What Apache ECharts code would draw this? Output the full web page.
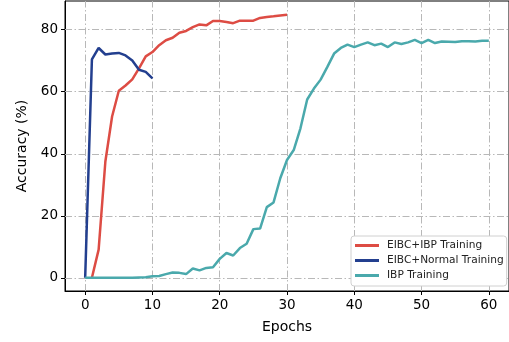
<!DOCTYPE html>
<html>
<head>
<meta charset="utf-8">
<script src="https://cdn.jsdelivr.net/npm/echarts@6/dist/echarts.min.js"></script>
<style>
  html, body { margin: 0; padding: 0; background: #fff; }
  #chart { width: 509px; height: 342px; }
</style>
</head>
<body>
<div id="chart"></div>
<script>
// accuracy per epoch
const eibcIbpEpochs = [1, 2, 3, 4, 5, 6, 7, 8, 9, 10, 11, 12, 13, 14, 15, 16, 17, 18, 19, 20,
  21, 22, 23, 24, 25, 26, 27, 28, 29, 30]
const eibcIbpAcc = [0, 9.1, 37.5, 52, 60.3, 62, 64, 67.5, 71.4, 72.8, 75, 76.6, 77.4, 79, 79.6,
  80.8, 81.7, 81.4, 82.8, 82.8, 82.5, 82.1, 82.9, 82.9, 82.9, 83.8, 84.1, 84.3, 84.6, 84.8]

const eibcNormalEpochs = [0, 1, 2, 3, 4, 5, 6, 7, 8, 9, 10]
const eibcNormalAcc = [0, 70.4, 74.1, 72, 72.3, 72.5, 71.7, 70.1, 67.1, 66.4, 64.3]

const ibpEpochs = [0, 1, 2, 3, 4, 5, 6, 7, 8, 9, 10, 11, 12, 13, 14, 15, 16, 17, 18, 19, 20,
  21, 22, 23, 24, 25, 26, 27, 28, 29, 30, 31, 32, 33, 34, 35, 36, 37, 38, 39, 40,
  41, 42, 43, 44, 45, 46, 47, 48, 49, 50, 51, 52, 53, 54, 55, 56, 57, 58, 59, 60]
const ibpAcc = [0, 0, 0, 0, 0, 0, 0, 0.05, 0.1, 0.15, 0.5, 0.6, 1.2, 1.7, 1.6, 1.2, 3.0, 2.4, 3.2, 3.4,
  6.1, 8.0, 7.2, 9.6, 11.0, 15.7, 15.9, 22.8, 24.3, 32.1, 38.0, 41.2, 48.2, 57.5, 61, 63.9, 68,
  72.3, 74.1, 75.2, 74.4, 75.2, 75.9, 75, 75.5, 74.4, 75.9, 75.4, 75.9, 76.7, 75.7, 76.7, 75.7,
  76.2, 76.1, 76.0, 76.3, 76.3, 76.2, 76.4, 76.4]

const xTicks = [0, 10, 20, 30, 40, 50, 60]
const yTicks = [0, 20, 40, 60, 80]

const seriesNames = ['EIBC+IBP Training', 'EIBC+Normal Training', 'IBP Training']
const colors = ['#dd4c44', '#233f8f', '#4aa9ac']

function pairs(xs, ys) {
  return xs.map((x, i) => [x, ys[i]])
}

const font = 'DejaVu Sans'
// dash-dot grid, like matplotlib's '-.'
const gridLineStyle = { color: '#b8b8b8', width: 1, type: [7, 2.5, 1.5, 2.5] }

const myChart = echarts.init(document.getElementById('chart'), null, { renderer: 'canvas' })

const option = {
  animation: false,
  textStyle: { fontFamily: font },
  grid: {
    left: 65,
    top: 1,
    width: 447,
    height: 290,
    show: true,
    borderColor: '#000',
    borderWidth: 1,
    backgroundColor: 'transparent',
  },
  legend: {
    orient: 'vertical',
    left: 351,
    top: 236,
    padding: [4, 3, 5, 4],
    itemGap: 4,
    itemWidth: 24,
    itemHeight: 3,
    icon: 'rect',
    backgroundColor: '#fff',
    borderColor: '#d0d0d0',
    borderWidth: 1,
    borderRadius: 3,
    textStyle: { fontFamily: font, fontSize: 10.6, color: '#222', padding: [0, 0, 0, 3] },
    data: seriesNames,
  },
  xAxis: {
    type: 'value',
    min: -3,
    max: 63,
    name: 'Epochs',
    nameLocation: 'middle',
    nameGap: 29,
    nameTextStyle: { fontFamily: font, fontSize: 14, color: '#000' },
    axisLine: { show: true, onZero: false, lineStyle: { color: '#000', width: 1 } },
    axisTick: { show: true, length: 4, customValues: xTicks, lineStyle: { color: '#000' } },
    axisLabel: { customValues: xTicks, fontFamily: font, fontSize: 13.5, color: '#000', margin: 7 },
    splitLine: { show: false },
  },
  yAxis: {
    type: 'value',
    min: -4.25,
    max: 89.25,
    name: 'Accuracy (%)',
    nameLocation: 'middle',
    nameGap: 36,
    nameTextStyle: { fontFamily: font, fontSize: 14, color: '#000' },
    axisLine: { show: true, onZero: false, lineStyle: { color: '#000', width: 1 } },
    axisTick: { show: true, length: 4, customValues: yTicks, lineStyle: { color: '#000' } },
    axisLabel: { customValues: yTicks, fontFamily: font, fontSize: 13.5, color: '#000', margin: 7 },
    splitLine: { show: false },
  },
  series: [
    {
      name: seriesNames[0],
      type: 'line',
      data: pairs(eibcIbpEpochs, eibcIbpAcc),
      showSymbol: false,
      color: colors[0],
      lineStyle: { width: 2.5 },
      z: 3,
    },
    {
      name: seriesNames[1],
      type: 'line',
      data: pairs(eibcNormalEpochs, eibcNormalAcc),
      showSymbol: false,
      color: colors[1],
      lineStyle: { width: 2.5 },
      z: 4,
    },
    {
      name: seriesNames[2],
      type: 'line',
      data: pairs(ibpEpochs, ibpAcc),
      showSymbol: false,
      color: colors[2],
      lineStyle: { width: 2.5 },
      z: 5,
      // grid lines at the tick values
      markLine: {
        silent: true,
        symbol: 'none',
        label: { show: false },
        lineStyle: gridLineStyle,
        z: 1,
        data: xTicks.map(v => ({ xAxis: v })).concat(yTicks.map(v => ({ yAxis: v }))),
      },
    },
  ],
}

myChart.setOption(option)
</script>
</body>
</html>
